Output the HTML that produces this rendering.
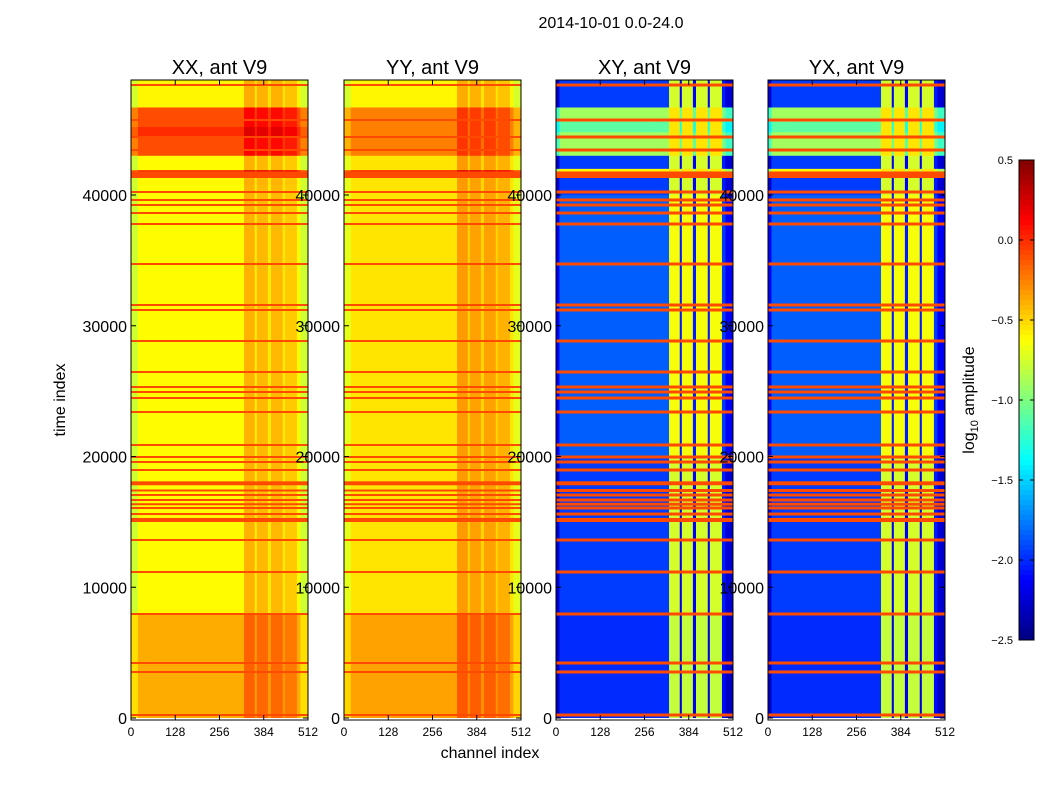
<!DOCTYPE html>
<html><head><meta charset="utf-8"><style>
body{margin:0;background:#fff;font-family:"Liberation Sans",sans-serif}
svg text{font-family:"Liberation Sans",sans-serif}
</style></head><body>
<svg id="fig" width="1050" height="800" xmlns="http://www.w3.org/2000/svg">
<text x="611" y="28" font-size="16" text-anchor="middle">2014-10-01 0.0-24.0</text>
<text x="490" y="758" font-size="16" text-anchor="middle">channel index</text>
<text transform="translate(65,400) rotate(-90)" font-size="16" text-anchor="middle">time index</text>
<text transform="translate(974,400) rotate(-90)" font-size="16" text-anchor="middle">log<tspan font-size="11" dy="4">10</tspan><tspan dy="-4"> amplitude</tspan></text>
<g id="panels"></g>
<g id="cbar"></g>
</svg>
<script>
const titles=["XX, ant V9","YY, ant V9","XY, ant V9","YX, ant V9"];
const panelLeft=[131,344,556,768];
const xTicks=[0,128,256,384,512];
const yTicks=[0,10000,20000,30000,40000];
const cbarTicks=[0.5,0.0,-0.5,-1.0,-1.5,-2.0,-2.5];
const bandsXX=[[0,48900,-0.62],[0,8000,-0.38],[40800,41100,-0.6],[41300,41900,0.0],[43000,46700,-0.1],[44500,45200,0.0],[46700,48900,-0.6]];
const bandsYY=[[0,48900,-0.55],[0,8000,-0.35],[41300,41900,0.0],[43000,46700,-0.25],[46700,48900,-0.6]];
const bandsXY=[[0,48900,-1.95],[0,8000,-2.0],[20000,40000,-1.85],[41300,42000,-0.6],[43000,46700,-0.9],[44800,45600,-1.1],[46700,48900,-1.95]];
const segsXX=[[0,20,-0.15],[20,327,0],[327,358,0.22],[358,364,0.05],[364,396,0.2],[396,405,0.05],[405,439,0.2],[439,445,0.05],[445,480,0.15],[480,490,0],[490,512,-0.15]];
const segsXY=[[0,10,-0.3],[10,327,0],[327,358,1.2],[358,364,-0.2],[364,396,1.2],[396,405,-0.2],[405,439,1.2],[439,445,-0.2],[445,480,1.2],[480,490,-0.1],[490,512,-0.3]];
const redLines=[229,3518,4206,7954,11166,13614,15600,16061,16350,16673,17055,17400,18967,19579,19962,20880,23403,24474,24933,25315,26463,28834,31205,31587,34723,37782,38623,39235,39618,40229,43442,44436,45736,48413];
const thickLines=[[14990,15300],[17800,18100],[41300,41800]];
const panelBands=[bandsXX,bandsYY,bandsXY,bandsXY];
const panelSegs=[segsXX,segsXX,segsXY,segsXY];
const NS="http://www.w3.org/2000/svg";
const topY=80,botY=720,panelW=177,y0=718,pxPerT=130.75/10000;
const ty=t=>y0-t*pxPerT;
function jet(v){let x=(v+2.5)/3;x=Math.max(0,Math.min(1,x));
 const c=k=>Math.round(255*Math.max(0,Math.min(1,1.5-Math.abs(4*x-k))));
 return `rgb(${c(3)},${c(2)},${c(1)})`;}
function mk(tag,attrs,parent){const e=document.createElementNS(NS,tag);for(const k in attrs)e.setAttribute(k,attrs[k]);parent.appendChild(e);return e;}
const G=document.getElementById('panels');
panelLeft.forEach((L,pi)=>{
 const g=mk('g',{},G);
 
 
 const sx=c=>L+c/512*panelW;
 panelBands[pi].forEach(b=>{
  panelSegs[pi].forEach(s=>{
   const y1=Math.max(topY,ty(b[1])),y2=Math.min(botY,ty(b[0]));
   let lvl=b[2]+s[2];
   if(pi>=2&&s[2]>=1) lvl=Math.max(-0.8,Math.min(-0.55,lvl));
   const r=mk('rect',{x:sx(s[0]),y:y1,width:sx(s[1])-sx(s[0])+0.3,height:y2-y1,fill:jet(lvl)},g);
   
   
  });
 });
 const lh=pi>=2?3:2;
 redLines.forEach(t=>{const r=mk('rect',{x:L,y:ty(t)-lh/2,width:panelW,height:lh,fill:'#ff4a00'},g);
  
  });
 thickLines.forEach(t=>{const r=mk('rect',{x:L,y:ty(t[1]),width:panelW,height:ty(t[0])-ty(t[1]),fill:'#ff4a00'},g);
  
  });
 mk('rect',{x:L,y:topY,width:panelW,height:botY-topY,fill:'none',stroke:'#000','stroke-width':1},g);
 const tt=mk('text',{x:L+panelW/2,y:74,'font-size':20,'text-anchor':'middle'},g);tt.textContent=titles[pi];
 
 
 xTicks.forEach(c=>{mk('line',{x1:sx(c),x2:sx(c),y1:botY,y2:botY-5,stroke:'#000'},g);mk('line',{x1:sx(c),x2:sx(c),y1:topY,y2:topY+5,stroke:'#000'},g);
  const t=mk('text',{x:sx(c),y:736,'font-size':12,'text-anchor':'middle'},g);t.textContent=c;
  
  });
 yTicks.forEach(v=>{const y=ty(v);mk('line',{x1:L,x2:L+5,y1:y,y2:y,stroke:'#000'},g);mk('line',{x1:L+panelW,x2:L+panelW-5,y1:y,y2:y,stroke:'#000'},g);
  const t=mk('text',{x:L-4,y:y+6,'font-size':16,'text-anchor':'end'},g);t.textContent=v;
  
  });
});
const C=document.getElementById('cbar');
const cx=1019,cw=15,cTop=160,cBot=640;
const cy=v=>cTop+(0.5-v)/3*(cBot-cTop);
for(let i=0;i<96;i++){const v=0.5-i*3/96;
 const r=mk('rect',{x:cx,y:cy(v),width:cw,height:(cBot-cTop)/96+0.5,fill:jet(v-3/192)},C);
 
 }
mk('rect',{x:cx,y:cTop,width:cw,height:cBot-cTop,fill:'none',stroke:'#000'},C);
cbarTicks.forEach(v=>{const y=cy(v);mk('line',{x1:cx+cw-4,x2:cx+cw,y1:y,y2:y,stroke:'#000'},C);mk('line',{x1:cx,x2:cx+4,y1:y,y2:y,stroke:'#000'},C);
 const t=mk('text',{x:1013,y:y+4,'font-size':11,'text-anchor':'end'},C);t.textContent=v.toFixed(1).replace('-','\u2212');
 
 });
</script>
</body></html>
